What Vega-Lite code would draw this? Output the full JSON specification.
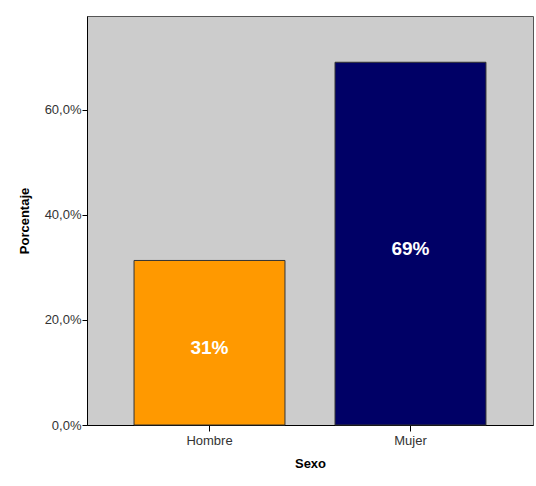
{
  "$schema": "https://vega.github.io/schema/vega-lite/v6.json",
  "width": 446,
  "height": 409,
  "autosize": {"type": "none"},
  "padding": {"left": 87, "top": 16, "right": 3, "bottom": 61},
  "background": "white",
  "data": {"values": [
    {"Sexo": "Hombre", "pct": 0.313, "label": "31%"},
    {"Sexo": "Mujer", "pct": 0.69, "label": "69%"}
  ]},
  "encoding": {
    "x": {
      "field": "Sexo", "type": "nominal", "sort": ["Hombre", "Mujer"],
      "scale": {"paddingInner": 0.249, "paddingOuter": 0.234},
      "axis": {"title": "Sexo", "labelAngle": 0, "tickSize": 6, "labelPadding": 3, "titlePadding": 10}
    }
  },
  "layer": [
    {
      "mark": {"type": "bar", "stroke": "#333333", "strokeWidth": 1},
      "encoding": {
        "y": {
          "field": "pct", "type": "quantitative",
          "scale": {"domain": [0, 0.778], "nice": false},
          "axis": {"title": "Porcentaje", "format": ".1%", "values": [0, 0.2, 0.4, 0.6], "tickSize": 5, "labelPadding": 1, "titlePadding": 13, "grid": false},
          "stack": null
        },
        "color": {
          "field": "Sexo", "type": "nominal",
          "scale": {"domain": ["Hombre", "Mujer"], "range": ["#FF9900", "#000066"]},
          "legend": null
        }
      }
    },
    {
      "mark": {"type": "text", "color": "white", "fontWeight": "bold", "fontSize": 19, "font": "Liberation Sans", "baseline": "middle", "dy": 5},
      "encoding": {
        "y": {"field": "pct", "type": "quantitative", "stack": null, "scale": {"domain": [0, 1.556], "nice": false}, "axis": null},
        "text": {"field": "label", "type": "nominal"}
      }
    }
  ],
  "resolve": {"scale": {"y": "independent"}, "axis": {"y": "independent"}},
  "config": {
    "locale": {"number": {"decimal": ",", "thousands": ".", "grouping": [3], "currency": ["", " €"]}},
    "view": {"fill": "#CCCCCC", "stroke": "#555555", "strokeWidth": 1},
    "axis": {
      "labelFont": "Liberation Sans", "labelFontSize": 13, "labelColor": "#333333",
      "titleFont": "Liberation Sans", "titleFontSize": 13, "titleFontWeight": "bold", "titleColor": "#000000",
      "domainColor": "#000000", "tickColor": "#000000", "domainWidth": 1, "tickWidth": 1
    }
  }
}
